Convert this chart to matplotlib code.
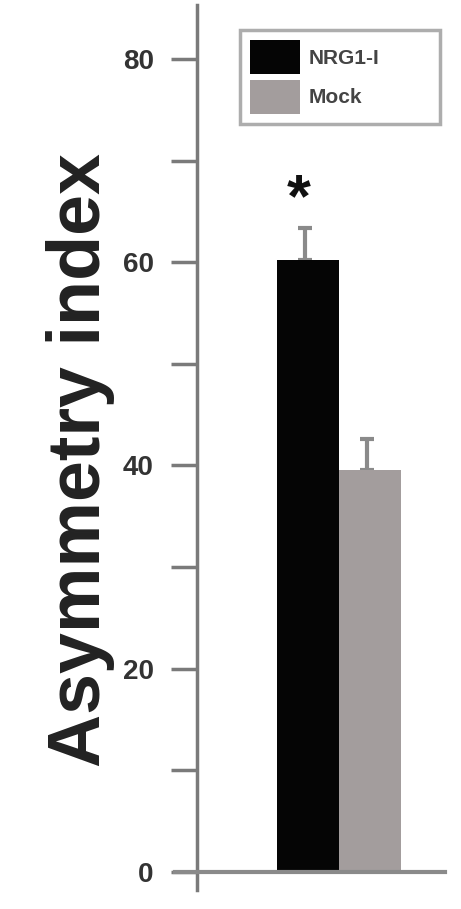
import matplotlib.pyplot as plt
from matplotlib.ticker import MultipleLocator, FixedLocator
from matplotlib.patches import Patch

groups = ['NRG1-I', 'Mock']
values = [60.2, 39.6]
errors = [3.2, 3.0]
bar_colors = ['#050505', '#a39d9d']
major_ticks = [0, 20, 40, 60, 80]
star_y = 66.0


def main():
    plt.rcParams['font.family'] = ['Liberation Sans', 'DejaVu Sans']
    fig = plt.figure(figsize=(4.61, 9.09), dpi=100)
    ax = fig.add_axes([0.427, 0.0209, 0.538, 0.9736])

    x = [0, 1]
    ax.bar(x, values, width=1.0, color=bar_colors, zorder=2)
    for xi, v, e in zip(x, values, errors):
        ax.errorbar(xi - 0.05, v, yerr=[[0], [e]], fmt='none', ecolor='#8a8a8a',
                    elinewidth=3, capsize=5, capthick=3, zorder=1)
    ax.text(x[0] - 0.15, star_y, '*', fontsize=44, fontweight='bold',
            ha='center', va='center', color='#111111')

    ax.set_xlim(-1.8, 2.2)
    ax.set_ylim(-1.77, 85.3)

    for s in ['top', 'right', 'bottom']:
        ax.spines[s].set_visible(False)
    ax.spines['left'].set_color('#7a7a7a')
    ax.spines['left'].set_linewidth(2.5)

    # baseline extends left of the y axis
    trans = ax.get_yaxis_transform()
    ax.plot([-0.09, 1.0], [0, 0], transform=trans, color='#8a8a8a', lw=3,
            clip_on=False, zorder=3)

    ax.set_xticks([])
    ax.yaxis.set_major_locator(FixedLocator(major_ticks))
    ax.yaxis.set_minor_locator(MultipleLocator(10))
    ax.tick_params(axis='y', which='both', length=19, width=2.5, color='#7a7a7a', pad=12)
    ax.tick_params(axis='y', which='major', labelsize=20, labelcolor='#333333')
    for lbl in ax.get_yticklabels():
        lbl.set_fontweight('bold')

    ax.set_ylabel('Asymmetry index', fontsize=53, fontweight='bold',
                  color='#222222')
    ax.yaxis.set_label_coords(-0.33, 0.486)

    handles = [Patch(facecolor=c, edgecolor='none') for c in bar_colors]
    leg = ax.legend(handles, groups, loc='upper left',
                    bbox_to_anchor=(0.173, 0.859, 0.806, 0.113), mode='expand',
                    borderaxespad=0, frameon=True, fancybox=False,
                    handlelength=2.4, handleheight=2.1, borderpad=0.5,
                    labelspacing=0.3, handletextpad=0.4,
                    prop={'weight': 'bold', 'size': 15})
    leg.get_frame().set_edgecolor('#999999')
    leg.get_frame().set_linewidth(2.5)
    for t in leg.get_texts():
        t.set_color('#444444')

    fig.savefig('out.png', dpi=100)


if __name__ == '__main__':
    main()
